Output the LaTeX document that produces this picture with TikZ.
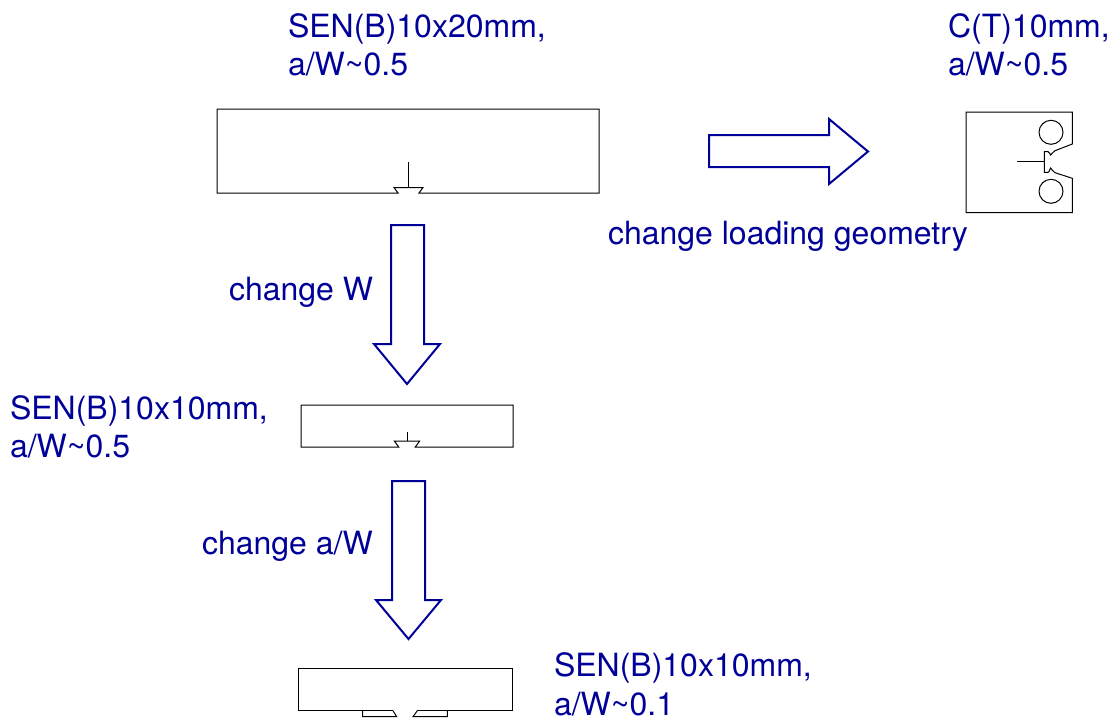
\documentclass[tikz,border=0pt]{standalone}
\usepackage{fontspec}
\setmainfont{TeX Gyre Heros}
\definecolor{lblue}{RGB}{0,0,153}
\tikzset{
  label text/.style={text=lblue,anchor=base west,inner sep=0pt,outer sep=0pt,align=left,
    font=\fontsize{32}{38.2}\selectfont},
  specimen/.style={draw=black,line width=1pt,line join=miter},
  block arrow/.style={draw=lblue,line width=2pt,line join=miter,fill=white},
}
\begin{document}
\begin{tikzpicture}[x=1pt,y=-1pt]
\useasboundingbox (0,0) rectangle (1115,720);
% labels
\node[label text] (t1) at (288,75.7) {SEN(B)10x20mm,\\a/W\char`\~0.5};
\node[label text] (t2) at (948,75.7) {C(T)10mm,\\a/W\char`\~0.5};
\node[label text] (t3) at (10,457.5) {SEN(B)10x10mm,\\a/W\char`\~0.5};
\node[label text] (t4) at (554,715) {SEN(B)10x10mm,\\a/W\char`\~0.1};
\node[label text] (c1) at (608,244) {change loading geometry};
\node[label text] (c2) at (229,300) {change W};
\node[label text] (c3) at (202,554) {change a/W};
% specimen 1
\draw[specimen] (398,193) -- (394,187.5) -- (423,187.5) -- (419,193) -- (599,193) -- (599,109) -- (217,109) -- (217,193) -- cycle;
\draw[specimen] (408,162) -- (408,187.5);
% specimen 2
\draw[specimen] (398.7,447) -- (394.3,441) -- (419.7,441) -- (415.3,447) -- (513,447) -- (513,405) -- (301,405) -- (301,447) -- cycle;
\draw[specimen] (407,432) -- (407,441);
% specimen 3
\draw[specimen] (393,710.7) -- (396.7,716.7) -- (362.7,716.7) -- (362.7,710.7);
\draw[specimen] (417.3,710.7) -- (413,716.7) -- (447.3,716.7) -- (447.3,710.7);
\draw[specimen] (393,710.7) -- (298.5,710.7) -- (298.5,668) -- (512,668) -- (512,710.7) -- (417.3,710.7);
% C(T) specimen
\draw[specimen] (1072.3,144) -- (1072.3,112) -- (966,112) -- (966,212.7) -- (1072.3,212.7) -- (1072.3,178.3)
  -- (1055,172.7) .. controls (1052,171.5) and (1051.5,168) .. (1050.7,168) .. controls (1050,168) and (1049.5,172.3) .. (1048,172.3)
  -- (1044.3,172.3) -- (1044.3,151.7) -- (1048,151.7)
  .. controls (1049.5,151.7) and (1050,155) .. (1050.7,155) .. controls (1051.5,155) and (1052,152) .. (1055,150.7) -- cycle;
\draw[specimen] (1017,161.7) -- (1044.3,161.7);
\draw[specimen] (1051,132.3) circle[radius=12];
\draw[specimen] (1051,191.3) circle[radius=12];
% block arrows
\draw[block arrow] (709,135) -- (829,135) -- (829,119) -- (868,151.5) -- (829,184) -- (829,167) -- (709,167) -- cycle;
\draw[block arrow] (391,225) -- (424,225) -- (424,344) -- (440,344) -- (407,384) -- (374,344) -- (391,344) -- cycle;
\draw[block arrow] (392,481) -- (425,481) -- (425,600) -- (441,600) -- (408.5,639) -- (376,600) -- (392,600) -- cycle;
\end{tikzpicture}
\end{document}
